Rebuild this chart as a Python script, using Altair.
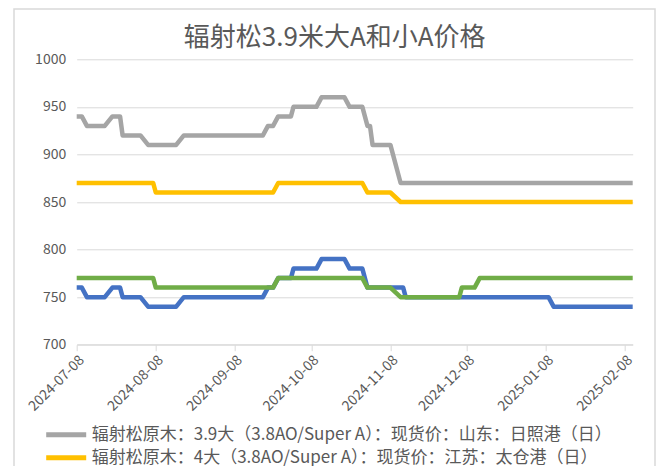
import altair as alt
import pandas as pd

TITLE = "辐射松3.9米大A和小A价格"
NAMES = [
    "辐射松原木：3.9大（3.8AO/Super A）：现货价：山东：日照港（日）",
    "辐射松原木：4大（3.8AO/Super A）：现货价：江苏：太仓港（日）",
    "辐射松原木：3.9小（3.8A）：现货价：山东：日照港（日）",
    "辐射松原木：4小（3.8A）：现货价：江苏：太仓港（日）",
]
COLORS = ["#A5A5A5", "#FFC000", "#4472C4", "#70AD47"]

gray_dates = ["2024-07-08", "2024-07-10", "2024-07-12", "2024-07-19", "2024-07-22", "2024-07-25",
              "2024-07-26", "2024-08-02", "2024-08-05", "2024-08-16", "2024-08-19", "2024-09-19",
              "2024-09-21", "2024-09-23", "2024-09-25", "2024-09-30", "2024-10-01", "2024-10-10",
              "2024-10-12", "2024-10-21", "2024-10-23", "2024-10-28", "2024-10-30", "2024-10-31",
              "2024-11-01", "2024-11-08", "2024-11-12", "2025-02-11"]
gray_values = [940, 940, 930, 930, 940, 940, 920, 920, 910, 910, 920, 920, 930, 930,
               940, 940, 950, 950, 960, 960, 950, 950, 930, 930, 910, 910, 870, 870]

yellow_dates = ["2024-07-08", "2024-08-07", "2024-08-08", "2024-09-23", "2024-09-25",
                "2024-10-28", "2024-10-30", "2024-11-08", "2024-11-12", "2025-02-11"]
yellow_values = [870, 870, 860, 860, 870, 870, 860, 860, 850, 850]

blue_dates = ["2024-07-08", "2024-07-10", "2024-07-12", "2024-07-19", "2024-07-22", "2024-07-25",
              "2024-07-26", "2024-08-02", "2024-08-05", "2024-08-16", "2024-08-19", "2024-09-19",
              "2024-09-21", "2024-09-23", "2024-09-25", "2024-09-30", "2024-10-01", "2024-10-10",
              "2024-10-12", "2024-10-21", "2024-10-23", "2024-10-28", "2024-10-30", "2024-11-13",
              "2024-11-14", "2025-01-09", "2025-01-11", "2025-02-11"]
blue_values = [760, 760, 750, 750, 760, 760, 750, 750, 740, 740, 750, 750, 760, 760,
               770, 770, 780, 780, 790, 790, 780, 780, 760, 760, 750, 750, 740, 740]

green_dates = ["2024-07-08", "2024-08-07", "2024-08-08", "2024-09-23", "2024-09-25",
               "2024-10-28", "2024-10-30", "2024-11-08", "2024-11-12", "2024-12-05",
               "2024-12-06", "2024-12-11", "2024-12-13", "2025-02-11"]
green_values = [770, 770, 760, 760, 770, 770, 760, 760, 750, 750, 760, 760, 770, 770]

tick_months = [(2024, 7), (2024, 8), (2024, 9), (2024, 10), (2024, 11), (2024, 12), (2025, 1), (2025, 2)]
y_ticks = [700, 750, 800, 850, 900, 950, 1000]

series = [(NAMES[0], gray_dates, gray_values), (NAMES[1], yellow_dates, yellow_values),
          (NAMES[2], blue_dates, blue_values), (NAMES[3], green_dates, green_values)]
frames = [pd.DataFrame({"series": n, "date": d, "value": v}) for n, d, v in series]
df = pd.concat(frames, ignore_index=True)

FONT = "Noto Sans CJK SC"
TXT = "#595959"
GRID = "#D9D9D9"

x_scale = alt.Scale(type="utc", domain=[alt.DateTime(year=2024, month=7, date=8, utc=True),
                                        alt.DateTime(year=2025, month=2, date=11, utc=True)])
x_axis = alt.Axis(values=[alt.DateTime(year=y, month=m, date=8, utc=True) for y, m in tick_months],
                  labelExpr="utcFormat(datum.value, '%Y-%m-%d')", labelAngle=-45, grid=False,
                  domainColor=GRID, tickColor=GRID, tickSize=6, labelPadding=2,
                  labelFontSize=14, labelColor=TXT, labelFont=FONT, title=None)
y_axis = alt.Axis(values=y_ticks, format="d", domain=False, ticks=False, labelPadding=11,
                  gridColor=GRID, labelFontSize=14, labelColor=TXT, labelFont=FONT, title=None)
color = alt.Color("series:N", scale=alt.Scale(domain=NAMES, range=COLORS),
                  legend=alt.Legend(values=NAMES[:2], orient="none", legendX=-13, legendY=363,
                                    direction="vertical", symbolType="M-3,0H1", symbolSize=400,
                                    symbolStrokeWidth=5, labelFontSize=17, labelFont=FONT,
                                    labelColor=TXT, labelLimit=0, rowPadding=-1, labelOffset=3,
                                    title=None))

layers = []
for n, _, _ in series:
    layers.append(
        alt.Chart(df).transform_filter(alt.datum.series == n)
        .mark_line(strokeWidth=4.5, strokeJoin="round")
        .encode(x=alt.X("date:T", scale=x_scale, axis=x_axis),
                y=alt.Y("value:Q", scale=alt.Scale(domain=[700, 1000], nice=False), axis=y_axis),
                color=color)
    )

frame = alt.Chart(pd.DataFrame({"k": [0]})).mark_rect(fillOpacity=0, stroke=GRID, strokeWidth=1.5).encode(
    x=alt.value(-62.7), x2=alt.value(578.3), y=alt.value(-50.3), y2=alt.value(440))

chart = alt.layer(frame, *layers).properties(
    width=556, height=285.4,
    title=alt.TitleParams(TITLE, fontSize=26, color=TXT, font=FONT, fontWeight="normal",
                          anchor="middle", dx=-20, dy=53, offset=10),
    autosize=alt.AutoSizeParams(type="none"),
    padding={"left": 68.7, "top": 51.3, "right": 24.3, "bottom": 121.3},
).configure_view(strokeWidth=0)

chart.save("out.html", embed_options={"renderer": "svg", "actions": False})
